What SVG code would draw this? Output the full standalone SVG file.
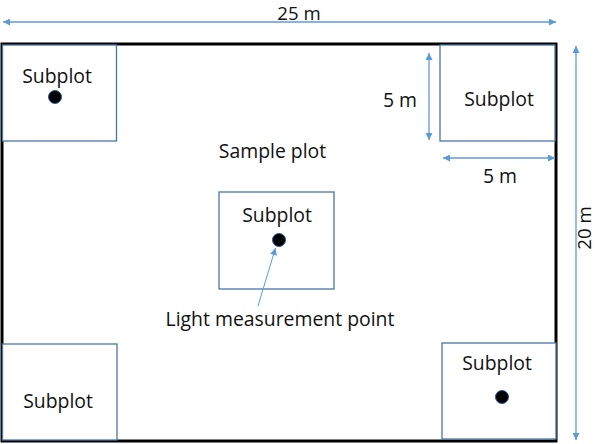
<svg xmlns="http://www.w3.org/2000/svg" width="597" height="444" viewBox="0 0 597 444">
<style>
  text { font-family: "Open Sans", "Liberation Sans", sans-serif; font-size: 19.4px; fill: #111; text-anchor: middle; }
  .edge { font-size: 18.6px; }
  .plot { fill: #fff; stroke: #000; stroke-width: 3; }
  .sub { fill: #fff; stroke: #4A76A8; stroke-width: 1.3; }
  .dot { fill: #000; stroke: #2F5597; stroke-width: 1; }
  .dim { stroke: #5B9BD5; stroke-width: 1.3; fill: none; }
  .ptr { stroke: #5B9BD5; stroke-width: 1; fill: none; }
</style>
<defs>
  <marker id="ah" viewBox="0 0 10 10" refX="10" refY="5" markerWidth="8" markerHeight="7" markerUnits="userSpaceOnUse" orient="auto-start-reverse">
    <path d="M0,0 L10,5 L0,10 z" fill="#5B9BD5"/>
  </marker>
</defs>
<rect width="597" height="444" fill="#fff"/>
<g id="sample-plot">
  <rect class="plot" x="2" y="44" width="554" height="397"/>
  <text x="272.5" y="158">Sample plot</text>
</g>
<g id="subplot-top-left">
  <rect class="sub" x="2.5" y="45" width="114" height="96"/>
  <text x="57" y="83">Subplot</text>
  <circle class="dot" cx="55" cy="97" r="6.5"/>
</g>
<g id="subplot-top-right">
  <rect class="sub" x="440" y="45" width="115" height="96"/>
  <text x="499" y="106">Subplot</text>
</g>
<g id="subplot-center">
  <rect class="sub" x="219" y="192" width="115" height="97"/>
  <text x="277" y="222">Subplot</text>
  <circle class="dot" cx="279" cy="240" r="6.5"/>
</g>
<g id="subplot-bottom-left">
  <rect class="sub" x="2.5" y="344" width="114.5" height="96"/>
  <text x="58" y="408">Subplot</text>
</g>
<g id="subplot-bottom-right">
  <rect class="sub" x="442" y="343" width="114" height="96"/>
  <text x="497" y="370">Subplot</text>
  <circle class="dot" cx="502" cy="397" r="6.5"/>
</g>
<g id="connectors">
  <line class="dim" x1="3" y1="22" x2="556" y2="22" marker-start="url(#ah)" marker-end="url(#ah)"/>
  <line class="dim" x1="576" y1="46" x2="576" y2="440" marker-start="url(#ah)" marker-end="url(#ah)"/>
  <line class="dim" x1="429" y1="53" x2="429" y2="140" marker-start="url(#ah)" marker-end="url(#ah)"/>
  <line class="dim" x1="443" y1="158" x2="555" y2="158" marker-start="url(#ah)" marker-end="url(#ah)"/>
  <line class="ptr" x1="258" y1="306" x2="275.5" y2="248" marker-end="url(#ah)"/>
</g>
<g id="labels">
  <text class="edge" x="299" y="19.8">25 m</text>
  <text x="400" y="107">5 m</text>
  <text x="500" y="183">5 m</text>
  <text class="edge" transform="translate(591.3,228) rotate(-90)">20 m</text>
  <text x="280" y="326">Light measurement point</text>
</g>
</svg>
